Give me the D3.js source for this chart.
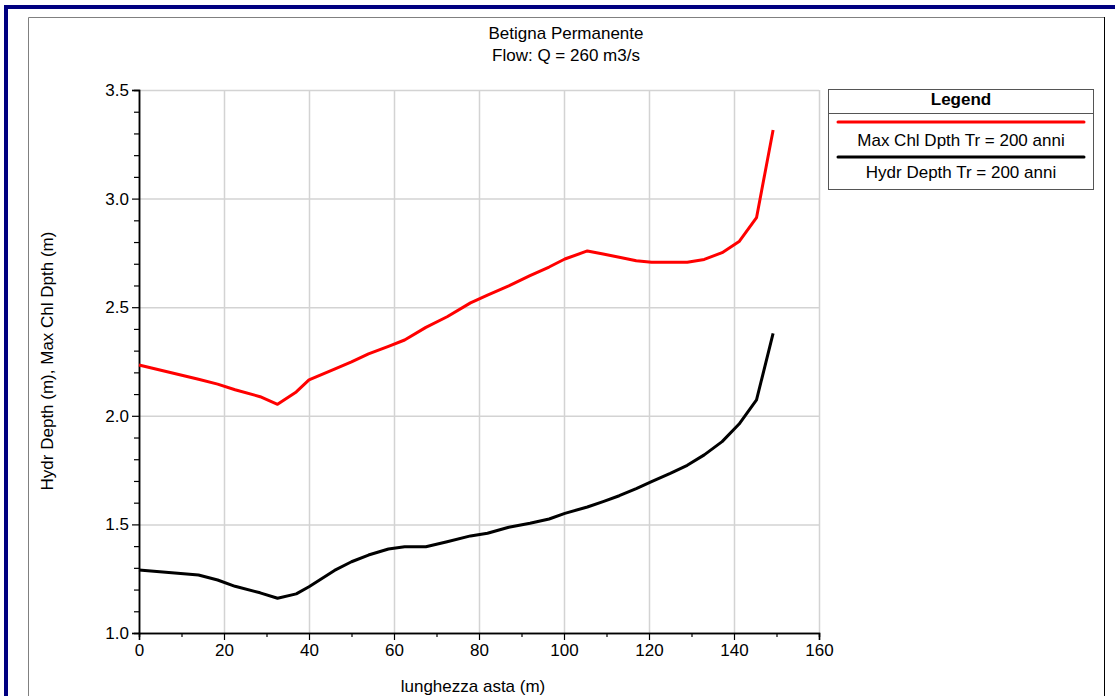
<!DOCTYPE html>
<html>
<head>
<meta charset="utf-8">
<script src="https://cdn.jsdelivr.net/npm/d3@7"></script>
<style>
  body { margin: 0; background: #fff; }
  svg { display: block; font-family: "Liberation Sans", Arial, sans-serif; }
</style>
</head>
<body>
<svg width="1115" height="696"></svg>
<script>
// stations along the reach (m)
const stations = [0, 14, 18.5, 22.6, 28.5, 32.6, 37, 40, 46, 50, 54, 58.7, 62.5, 67.5, 72.5, 78, 82, 87, 92, 96.5,
  100.2, 105.5, 109.2, 113, 117, 120.6, 125, 129, 133, 137.2, 141.2, 145.3, 149.2];

const maxChlDpth = [2.234, 2.168, 2.146, 2.12, 2.088, 2.053, 2.11, 2.165, 2.215, 2.248, 2.285, 2.32, 2.349, 2.407,
  2.456, 2.52, 2.556, 2.598, 2.645, 2.685, 2.722, 2.759, 2.745, 2.73, 2.714, 2.707, 2.707, 2.707, 2.72, 2.751,
  2.802, 2.912, 3.316];

const hydrDepth = [1.290, 1.267, 1.244, 1.215, 1.185, 1.160, 1.180, 1.213, 1.288, 1.328, 1.359, 1.387, 1.397, 1.397,
  1.42, 1.447, 1.459, 1.487, 1.505, 1.525, 1.551, 1.58, 1.605, 1.632, 1.665, 1.697, 1.735, 1.772, 1.82, 1.881,
  1.962, 2.073, 2.380];

const seriesNames = ["Max Chl Dpth Tr = 200 anni", "Hydr Depth Tr = 200 anni"];
const seriesColors = ["#ff0000", "#000000"];
const xTicks = [0, 20, 40, 60, 80, 100, 120, 140, 160];
const yTicks = [1.0, 1.5, 2.0, 2.5, 3.0, 3.5];

const svg = d3.select("svg");
const fs = 17;

// window frame
svg.append("rect").attr("x", 4).attr("y", 5).attr("width", 1111).attr("height", 4).attr("fill", "#000080");
svg.append("rect").attr("x", 4).attr("y", 5).attr("width", 4).attr("height", 691).attr("fill", "#000080");
svg.append("path").attr("d", "M28.5,696V17.5H1104").attr("fill", "none").attr("stroke", "#808080");
svg.append("path").attr("d", "M1104.5,17V696").attr("fill", "none").attr("stroke", "#000");

const plotL = 139, plotR = 819, plotT = 90, plotB = 633;
const xs = d3.scaleLinear().domain([0, 160]).range([plotL, plotR]);
const ys = d3.scaleLinear().domain([1, 3.5]).range([plotB, plotT]);

// grid
const g = svg.append("g");
g.selectAll(".vg").data(xTicks.slice(1)).enter().append("line")
  .attr("x1", d => xs(d) + 0.5).attr("x2", d => xs(d) + 0.5)
  .attr("y1", plotT).attr("y2", plotB)
  .attr("stroke", "#d3d3d3").attr("stroke-width", 1.5);
g.selectAll(".hg").data(yTicks.slice(1)).enter().append("line")
  .attr("x1", plotL).attr("x2", plotR)
  .attr("y1", d => ys(d) + 0.5).attr("y2", d => ys(d) + 0.5)
  .attr("stroke", "#d3d3d3").attr("stroke-width", 1.5);

// axes
const xAxis = d3.axisBottom(xs).tickValues(xTicks).tickSize(7).tickFormat(d3.format("d"));
const xMinor = d3.axisBottom(xs).tickValues(d3.range(10, 160, 20)).tickSize(4).tickFormat("");
const yAxis = d3.axisLeft(ys).tickValues(yTicks).tickSize(7).tickFormat(d3.format(".1f"));
const yMinor = d3.axisLeft(ys).tickValues(d3.range(1.1, 3.5, 0.1).filter(v => Math.abs(v * 2 - Math.round(v * 2)) > 0.01)).tickSize(5).tickFormat("");

function styleAxis(sel) {
  sel.select(".domain").attr("stroke", "#000").attr("stroke-width", 1.5);
  sel.selectAll(".tick line").attr("stroke", "#000").attr("stroke-width", 1.2);
  sel.selectAll("text").attr("font-size", fs).attr("fill", "#000").attr("font-family", "Liberation Sans, Arial, sans-serif");
}

svg.append("g").attr("transform", `translate(0,${plotB})`).call(xMinor).call(styleAxis);
const xg = svg.append("g").attr("transform", `translate(0,${plotB})`).call(xAxis).call(styleAxis);
xg.selectAll("text").attr("dy", "0.71em").attr("y", 11);
svg.append("g").attr("transform", `translate(${plotL},0)`).call(yMinor).call(styleAxis);
const yg = svg.append("g").attr("transform", `translate(${plotL},0)`).call(yAxis).call(styleAxis);
yg.selectAll("text").attr("x", -10);

// lines
const line = d3.line().x(d => xs(d[0])).y(d => ys(d[1]));
[maxChlDpth, hydrDepth].forEach((vals, i) => {
  svg.append("path")
    .datum(stations.map((s, j) => [s, vals[j]]))
    .attr("fill", "none")
    .attr("stroke", seriesColors[i])
    .attr("stroke-width", 3)
    .attr("stroke-linejoin", "round")
    .attr("d", line);
});

// titles
svg.append("text").attr("x", 566).attr("y", 39).attr("text-anchor", "middle").attr("font-size", fs).text("Betigna Permanente");
svg.append("text").attr("x", 566).attr("y", 61).attr("text-anchor", "middle").attr("font-size", fs).text("Flow: Q = 260 m3/s");
svg.append("text").attr("x", 473).attr("y", 692).attr("text-anchor", "middle").attr("font-size", fs).text("lunghezza asta (m)");
svg.append("text").attr("transform", "translate(53,361) rotate(-90)").attr("text-anchor", "middle").attr("font-size", fs)
  .text("Hydr Depth (m), Max Chl Dpth (m)");

// legend
const lg = svg.append("g");
lg.append("rect").attr("x", 828.5).attr("y", 89.5).attr("width", 265).attr("height", 100)
  .attr("fill", "#fff").attr("stroke", "#555").attr("stroke-width", 1);
lg.append("line").attr("x1", 828).attr("x2", 1094).attr("y1", 113.5).attr("y2", 113.5).attr("stroke", "#555");
lg.append("text").attr("x", 961).attr("y", 105).attr("text-anchor", "middle").attr("font-size", fs)
  .attr("font-weight", "bold").text("Legend");
seriesNames.forEach((name, i) => {
  const y0 = 122 + i * 35;
  lg.append("line").attr("x1", 838).attr("x2", 1084).attr("y1", y0).attr("y2", y0)
    .attr("stroke", seriesColors[i]).attr("stroke-width", 3).attr("stroke-linecap", "round");
  lg.append("text").attr("x", 961).attr("y", y0 + 24 - 3 * i).attr("text-anchor", "middle").attr("font-size", fs).text(name);
});
</script>
</body>
</html>
